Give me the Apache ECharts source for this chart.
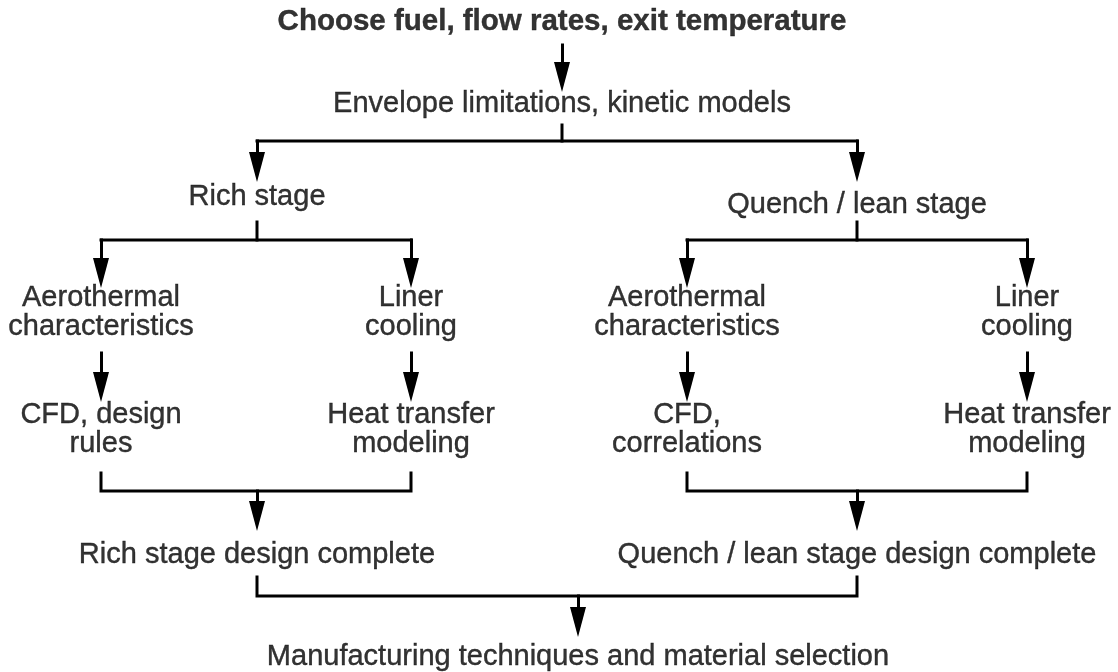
<!DOCTYPE html>
<html>
<head>
<meta charset="utf-8">
<title>Combustor design flow</title>
<script src="https://cdn.jsdelivr.net/npm/echarts@6/dist/echarts.min.js"></script>
<style>
html,body{margin:0;padding:0;background:#fff;}
#chart{width:1118px;height:672px;}
</style>
</head>
<body>
<div id="chart"></div>
<script>
// boxes of the flow chart, top to bottom
var nodeLabels = [
    'Choose fuel, flow rates, exit temperature',
    'Envelope limitations, kinetic models',
    'Rich stage',
    'Quench / lean stage',
    'Aerothermal\ncharacteristics',
    'Liner\ncooling',
    'Aerothermal\ncharacteristics',
    'Liner\ncooling',
    'CFD, design\nrules',
    'Heat transfer\nmodeling',
    'CFD,\ncorrelations',
    'Heat transfer\nmodeling',
    'Rich stage design complete',
    'Quench / lean stage design complete',
    'Manufacturing techniques and material selection'
];
var nodeLevel = [0, 1, 2, 2, 3, 3, 3, 3, 4, 4, 4, 4, 5, 5, 6];
var nodeX = [562, 562, 257, 857, 101, 411, 687, 1027, 101, 411, 687, 1027, 257, 857, 578];
var nodeY = [22, 104, 197, 205, 312, 312, 312, 312, 429, 429, 429, 429, 555, 555, 657];

// where arrows end / lines start on each level, and the bus line below a level
var levelTop = [0, 92, 182, 288, 402, 531, 637];
var levelBottom = [45, 125, 222, 353, 473, 577, 672];
var busY = [0, 141, 240, 0, 491, 596];

// links
var steps = [[0, 1], [4, 8], [5, 9], [6, 10], [7, 11]];
var forks = [[1, [2, 3]], [2, [4, 5]], [3, [6, 7]]];
var merges = [[[8, 9], 12], [[10, 11], 13], [[12, 13], 14]];

var headLen = 30, headW = 16;
var plain = [], arrows = [];

function arrow(x, y0, child) {
    arrows.push({coords: [[x, y0], [x, levelTop[nodeLevel[child]] - headLen / 2]]});
}
steps.forEach(function (s) {
    arrow(nodeX[s[0]], levelBottom[nodeLevel[s[0]]], s[1]);
});
forks.forEach(function (f) {
    var p = f[0], lv = nodeLevel[p], y = busY[lv];
    plain.push({coords: [[nodeX[p], levelBottom[lv]], [nodeX[p], y]]});
    var xs = f[1].map(function (c) { return nodeX[c]; });
    plain.push({coords: [[Math.min.apply(null, xs), y], [Math.max.apply(null, xs), y]]});
    f[1].forEach(function (c) { arrow(nodeX[c], y, c); });
});
merges.forEach(function (m) {
    var a = m[0][0], b = m[0][1], lv = nodeLevel[a], y = busY[lv];
    plain.push({coords: [[nodeX[a], levelBottom[lv]], [nodeX[a], y], [nodeX[b], y], [nodeX[b], levelBottom[lv]]]});
    arrow(nodeX[m[1]], y, m[1]);
});

var labelData = nodeLabels.map(function (t, i) {
    var item = {name: t, value: [nodeX[i], nodeY[i]]};
    if (i === 0) {
        item.label = {fontWeight: 'bold', fontSize: 29.5};
    }
    return item;
});

var font = "'Liberation Sans', Arial, Helvetica, sans-serif";
var chart = echarts.init(document.getElementById('chart'));
var option = {
    backgroundColor: '#fff',
    animation: false,
    grid: {left: 0, right: 0, top: 0, bottom: 0},
    xAxis: {type: 'value', min: 0, max: 1118, show: false},
    yAxis: {type: 'value', min: 0, max: 672, inverse: true, show: false},
    series: [
        {
            type: 'lines',
            coordinateSystem: 'cartesian2d',
            polyline: true,
            silent: true,
            lineStyle: {color: '#000', width: 3, opacity: 1, cap: 'square', join: 'miter'},
            data: plain
        },
        {
            type: 'lines',
            coordinateSystem: 'cartesian2d',
            silent: true,
            symbol: ['none', 'triangle'],
            symbolSize: [0, [headW, headLen]],
            lineStyle: {color: '#000', width: 3, opacity: 1, cap: 'square'},
            itemStyle: {color: '#000'},
            data: arrows
        },
        {
            type: 'scatter',
            silent: true,
            symbolSize: 1,
            itemStyle: {color: 'transparent'},
            label: {
                show: true,
                position: 'inside',
                formatter: '{b}',
                color: '#000',
                textBorderColor: '#000',
                textBorderWidth: 0.4,
                fontFamily: font,
                fontSize: 29,
                lineHeight: 29,
                align: 'center',
                verticalAlign: 'middle'
            },
            data: labelData
        }
    ]
};
chart.setOption(option);
</script>
</body>
</html>
